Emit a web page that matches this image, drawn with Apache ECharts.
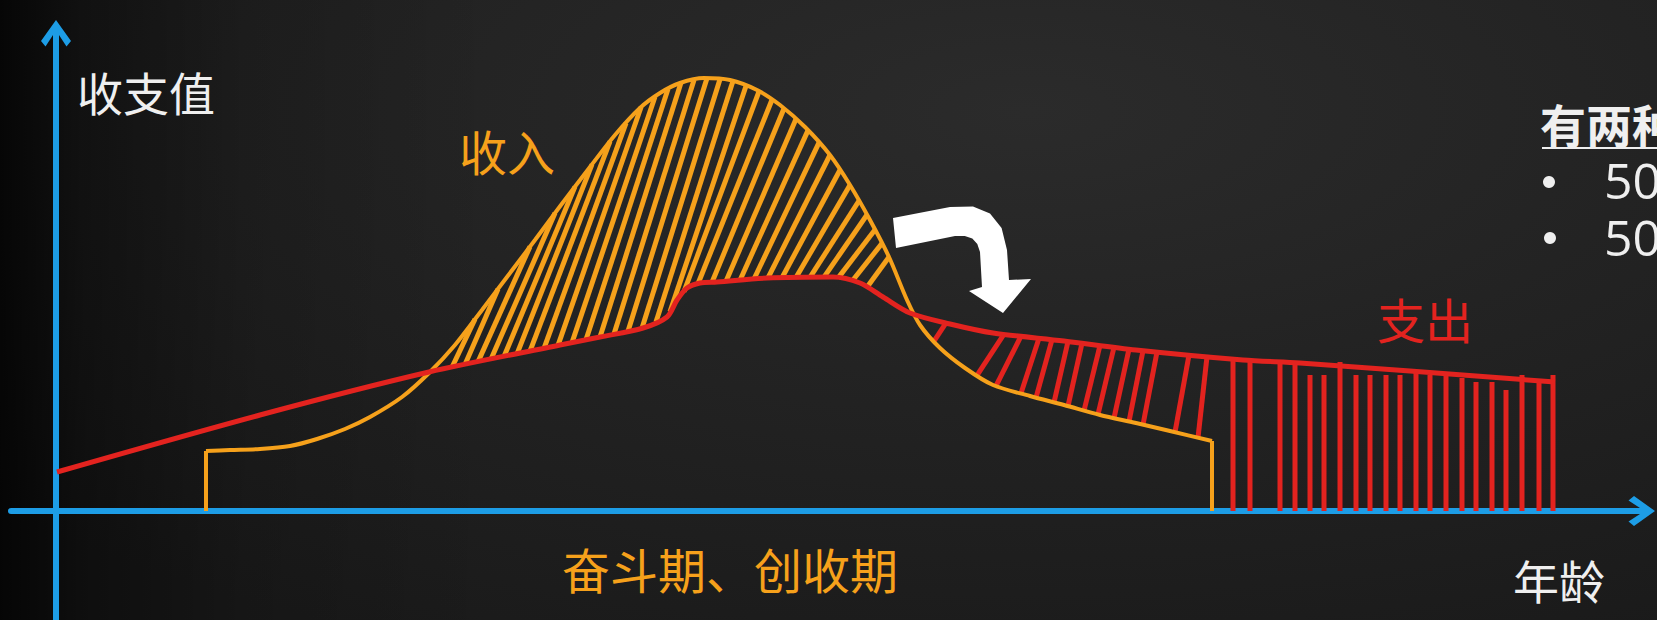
<!DOCTYPE html>
<html>
<head>
<meta charset="utf-8">
<script src="https://cdn.jsdelivr.net/npm/echarts@6/dist/echarts.min.js"></script>
<style>
  html, body { margin: 0; padding: 0; width: 1657px; height: 620px; overflow: hidden; background: #141414; }
  #chart {
    width: 1657px; height: 620px;
    background:
      linear-gradient(90deg, rgba(0,0,0,0.8) 0%, rgba(0,0,0,0.45) 5%, rgba(0,0,0,0.15) 15%, rgba(0,0,0,0) 30%),
      radial-gradient(ellipse 85% 95% at 62% 18%, #2b2b2b 0%, #232323 45%, #1a1a1a 100%);
  }
</style>
</head>
<body>
<div id="chart"></div>
<script>
// Life-cycle curves: x = age position, y = amount (arbitrary units)
const spendCurve = [
  [0.1, 7.8], [20.4, 19.2], [37.3, 27.8], [50.4, 33.2], [54.4, 34.8], [58.7, 36.6],
  [61.1, 38.8], [62.1, 42.2], [63.1, 44.6], [64.4, 45.6], [66.1, 45.8], [71.1, 46.6],
  [77.7, 46.8], [80.4, 45.6], [82.7, 42.8], [85.4, 39.6], [89.4, 37.4], [93.7, 35.6],
  [100.8, 34.0], [108.0, 32.2], [118.7, 30.2], [124.4, 29.6], [135.4, 28.0], [149.9, 25.8]
];
const incomeCurve = [
  [15.0, 12.0], [17.4, 12.2], [20.4, 12.4], [23.4, 13.0], [26.1, 14.4], [28.9, 16.4],
  [31.4, 18.8], [34.6, 22.8], [37.3, 27.6], [39.9, 33.2], [42.6, 40.2], [45.1, 46.8],
  [47.9, 54.2], [50.5, 61.2], [53.4, 68.8], [55.9, 75.2], [58.4, 80.6], [60.4, 83.6],
  [62.4, 85.6], [64.8, 86.6], [67.4, 86.2], [70.1, 84.2], [72.4, 81.2], [74.9, 76.8],
  [77.4, 71.2], [79.4, 65.2], [81.4, 58.2], [83.3, 50.8], [85.1, 42.2], [86.4, 37.2],
  [88.4, 32.6], [90.9, 28.6], [93.7, 25.2], [97.4, 23.0], [100.8, 21.2], [104.4, 19.2],
  [108.0, 17.6], [111.4, 16.0], [115.6, 14.0]
];
// Surplus hatching: [x on spending curve, x on income curve]
const surplusHatch = [
  [39.6, 41.9], [40.9, 44.2], [42.2, 47.4], [43.5, 49.9], [44.8, 51.9], [46.1, 53.6],
  [47.4, 55.4], [48.8, 57.0], [50.2, 58.5], [51.6, 59.9], [53.0, 61.2], [54.4, 62.5],
  [55.8, 63.8], [57.2, 65.1], [58.6, 66.4], [60.0, 67.7], [61.4, 69.0], [62.8, 70.3],
  [64.2, 71.6], [65.6, 72.8], [67.0, 74.0], [68.4, 75.2], [69.8, 76.3], [71.2, 77.4],
  [72.6, 78.4], [74.0, 79.4], [75.4, 80.3], [76.8, 81.1], [78.2, 81.9], [79.6, 82.6],
  [81.1, 83.3]
];
// Deficit hatching: [x on income curve, x on spending curve]
const deficitHatch = [
  [87.8, 89.0], [92.1, 94.8], [94.0, 96.5], [96.5, 98.3], [98.0, 99.6], [99.8, 101.2],
  [101.2, 102.6], [102.8, 104.4], [104.2, 105.8], [105.8, 107.3], [107.3, 108.7],
  [108.7, 110.1], [111.9, 113.3], [114.2, 115.1]
];
// Retirement years: spending with no income
const retireBarX = [
  117.7, 119.4, 122.4, 123.9, 125.4, 126.8, 128.4, 130.0, 131.4, 133.0, 134.4,
  136.0, 137.4, 139.0, 140.6, 142.0, 143.6, 145.0, 146.6, 148.3, 149.7
];
const retireBarTop = [
  30.2, 30.2, 29.6, 29.6, 27.2, 27.2, 29.8, 27.2, 27.2, 27.2, 27.2,
  27.8, 27.2, 27.2, 26.6, 25.8, 25.8, 24.2, 27.2, 25.8, 27.2
];

const BLUE = '#1D9DE6';
const ORANGE = '#F6A11B';
const RED = '#E3231F';
const WHITE = '#EFEFEF';
const CJK = '"Noto Sans CJK SC", "Noto Sans", sans-serif';
const LATIN = '"Open Sans", "Noto Sans", sans-serif';

// value of a curve at x (piecewise linear between its points)
function valueAt(curve, x) {
  for (let i = 1; i < curve.length; i++) {
    const a = curve[i - 1], b = curve[i];
    if (x <= b[0]) {
      const t = (x - a[0]) / (b[0] - a[0]);
      return a[1] + t * (b[1] - a[1]);
    }
  }
  return curve[curve.length - 1][1];
}

const surplusSegs = surplusHatch.map(h => [h[0], valueAt(spendCurve, h[0]), h[1], valueAt(incomeCurve, h[1])]);
const deficitSegs = deficitHatch.map(h => [h[0], valueAt(incomeCurve, h[0]), h[1], valueAt(spendCurve, h[1])]);
const barSegs = retireBarX.map((x, i) => [x, 0, x, retireBarTop[i]]);

const firstIncome = incomeCurve[0];
const lastIncome = incomeCurve[incomeCurve.length - 1];
const incomeLegs = [
  [firstIncome[0], 0, firstIncome[0], firstIncome[1]],
  [lastIncome[0], lastIncome[1], lastIncome[0], 0]
];

function segmentSeries(data, color, width) {
  return {
    type: 'custom',
    data: data,
    clip: false,
    silent: true,
    renderItem: function (params, api) {
      const p1 = api.coord([api.value(0), api.value(1)]);
      const p2 = api.coord([api.value(2), api.value(3)]);
      return {
        type: 'line',
        shape: { x1: p1[0], y1: p1[1], x2: p2[0], y2: p2[1] },
        style: { stroke: color, lineWidth: width, lineCap: 'butt' }
      };
    }
  };
}

// open chevron with a short stem that joins the axis line
const ARROW = 'path://M15,0 L30,21 L25.5,26.5 L18,15 L18,28 L12,28 L12,15 L4.5,26.5 L0,21 Z';

function axisBase(min, max) {
  return {
    type: 'value', min: min, max: max,
    axisLine: {
      show: true, onZero: true,
      symbol: ['none', ARROW], symbolSize: [30, 28],
      lineStyle: { color: BLUE, width: 6 }
    },
    axisTick: { show: false }, axisLabel: { show: false }, splitLine: { show: false }
  };
}

function label(text, x, y, size, color, align, family, weight) {
  return {
    type: 'text', x: x, y: y, silent: true,
    style: {
      text: text, fill: color, fontSize: size, lineHeight: size,
      fontFamily: family || CJK, fontWeight: weight || 'normal',
      align: align || 'center', verticalAlign: 'middle',
      textAlign: align || 'center', textVerticalAlign: 'middle'
    }
  };
}

const chart = echarts.init(document.getElementById('chart'), null, { renderer: 'svg' });
chart.setOption({
  backgroundColor: 'transparent',
  animation: false,
  grid: { left: 11, right: 16, top: 34, bottom: 0 },
  xAxis: axisBase(-4.5, 158.5),
  yAxis: axisBase(-21.8, 95.4),
  series: [
    segmentSeries(surplusSegs, ORANGE, 5),
    segmentSeries(deficitSegs, RED, 5),
    segmentSeries(barSegs, RED, 5),
    segmentSeries(incomeLegs, ORANGE, 4),
    {
      type: 'line', data: incomeCurve, showSymbol: false, smooth: 0.3, silent: true,
      lineStyle: { color: ORANGE, width: 4 }
    },
    {
      type: 'line', data: spendCurve, showSymbol: false, smooth: 0.3, silent: true,
      lineStyle: { color: RED, width: 5 }
    }
  ],
  graphic: [
    label('收支值', 146, 91, 46, WHITE),
    label('收入', 507, 150, 48, ORANGE),
    label('支出', 1425, 318, 48, RED),
    label('年龄', 1559, 579, 46, WHITE),
    label('奋斗期、创收期', 730, 568, 48, ORANGE),
    label('有两种', 1540, 123, 46, WHITE, 'left', CJK, 'bold'),
    { type: 'line', silent: true, shape: { x1: 1542, y1: 148, x2: 1657, y2: 148 }, style: { stroke: WHITE, lineWidth: 2 } },
    { type: 'circle', silent: true, shape: { cx: 1549, cy: 182, r: 6 }, style: { fill: WHITE } },
    { type: 'circle', silent: true, shape: { cx: 1550, cy: 238, r: 6 }, style: { fill: WHITE } },
    label('50', 1604, 180, 50, WHITE, 'left', LATIN),
    label('50', 1604, 237, 50, WHITE, 'left', LATIN),
    {
      type: 'polygon', silent: true,
      shape: {
        points: [
          [893, 218], [950, 207], [973, 206.6], [990, 213.5], [1001.6, 228], [1007, 250],
          [1009, 280], [1031, 279], [1003, 313], [969, 291], [982, 287], [980, 252],
          [977.3, 243.9], [972.3, 238.5], [964.8, 235.9], [955, 236], [896, 248]
        ]
      },
      style: { fill: '#FFFFFF' }
    }
  ]
});
</script>
</body>
</html>
